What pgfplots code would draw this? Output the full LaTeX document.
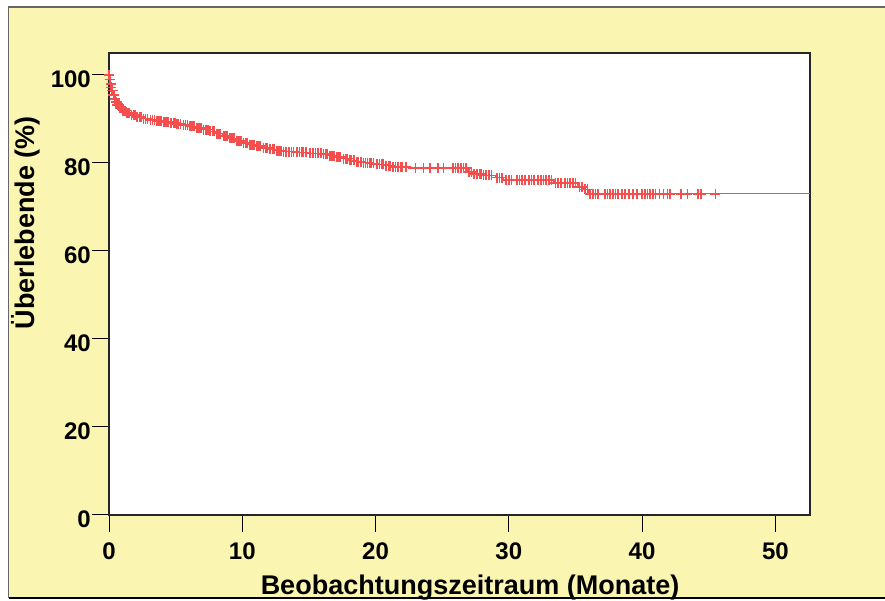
\documentclass[border=0pt]{standalone}
\usepackage{pgfplots}
\pgfplotsset{compat=1.18}
\usepackage{fontspec}
\setmainfont{Liberation Sans}
\definecolor{bgyellow}{RGB}{250,245,176}
\definecolor{kmred}{RGB}{245,78,78}
\begin{document}
\begin{tikzpicture}[x=1pt,y=1pt]
\fill[white] (0,0) rectangle (885,601);
\fill[bgyellow] (8.5,3) rectangle (885,594);
\draw[black!60, line width=1.2pt] (885,594) -- (8.5,594) -- (8.5,3);
\draw[black, line width=1.2pt] (8.5,3) -- (885,3);
\begin{axis}[
  at={(109pt,86pt)}, anchor=south west, scale only axis,
  width=701pt, height=462pt,
  xmin=0, xmax=52.6, ymin=0, ymax=105,
  xtick={0,10,20,30,40,50}, ytick={0,20,40,60,80,100},
  axis background/.style={fill=white},
  axis line style={black!85, line width=1.5pt},
  tick pos=left, tick align=outside, major tick length=17pt,
  tick style={black, line width=1pt},
  /pgf/number format/assume math mode=true,
  tick label style={font=\bfseries\fontsize{24}{28}\selectfont},
  yticklabel style={inner sep=1pt, yshift=-4pt},
  xticklabel style={inner sep=1pt, yshift=-10pt},
  label style={font=\bfseries\fontsize{27}{32}\selectfont},
  xlabel={Beobachtungszeitraum (Monate)},
  ylabel={Überlebende (\%)},
  xlabel style={at={(axis description cs:0.515,-0.173)}, anchor=base},
  ylabel style={at={(axis description cs:-0.1056,0.633)}, anchor=base},
  clip=false,
]
\addplot[draw=kmred, color=kmred, line width=1.3pt, const plot, mark=none] table {
t S
0 100
0.05 99.0
0.10 98.0
0.15 97.2
0.20 96.5
0.30 95.5
0.40 94.6
0.50 93.8
0.60 93.2
0.80 92.5
1.00 91.9
1.30 91.3
1.60 90.9
2.00 90.5
2.50 90.1
3.00 89.8
3.50 89.5
4.00 89.3
4.50 89.1
5.00 88.9
5.50 88.6
6.00 88.3
6.50 88.0
7.00 87.6
7.50 87.2
8.00 86.7
8.50 86.2
9.00 85.6
9.50 85.0
10.00 84.6
10.50 84.2
11.00 83.8
11.50 83.4
12.00 83.1
12.50 82.8
13.00 82.6
14.00 82.4
15.00 82.2
16.00 82.0
16.50 81.7
17.00 81.4
17.50 81.0
18.00 80.6
18.50 80.3
19.00 80.1
19.50 79.9
20.00 79.7
20.70 79.4
21.20 79.1
22.50 78.8
26.90 78.0
27.30 77.5
28.00 77.2
29.00 76.7
29.60 76.2
33.40 75.5
35.20 74.6
35.60 74.0
36.00 73.0
52.60 73.0
};
\addplot[draw=kmred, color=kmred, only marks, mark=+, mark size=5pt, line width=1.6pt, mark options={draw=kmred, line width=1.6pt}] coordinates {
(0.0,100) (0.02,100) (0.06,99) (0.12,98) (0.17,97.2) (0.22,96.5) (0.27,96.5)
(0.33,95.5) (0.37,95.5) (0.43,94.6) (0.47,94.6) (0.53,93.8) (0.57,93.8)
(0.63,93.2) (0.7,93.2) (0.76,93.2) (0.84,92.5) (0.9,92.5) (0.96,92.5)
(1.05,91.9) (1.15,91.9) (1.25,91.9) (1.35,91.3) (1.45,91.3) (1.55,91.3)
(1.7,90.9) (1.85,90.9) (1.95,90.9) (2.1,90.5) (2.3,90.5) (2.4,90.5)
(2.6,90.1) (2.75,90.1) (2.9,90.1) (3.1,89.8) (3.25,89.8) (3.4,89.8)
(3.6,89.5) (3.75,89.5) (3.9,89.5) (4.1,89.3) (4.2,89.3) (4.35,89.3) (4.45,89.3)
(4.6,89.1) (4.7,89.1) (4.85,89.1) (4.95,89.1) (5.1,88.9) (5.2,88.9) (5.35,88.9)
(5.6,88.6) (5.75,88.6) (5.9,88.6) (6.1,88.3) (6.25,88.3) (6.4,88.3)
(6.6,88.0) (6.75,88.0) (6.9,88.0) (7.1,87.6) (7.3,87.6) (7.45,87.6)
(7.6,87.2) (7.8,87.2) (7.9,87.2) (8.1,86.7) (8.2,86.7) (8.35,86.7)
(8.6,86.2) (8.7,86.2) (8.85,86.2) (9.1,85.6) (9.25,85.6) (9.4,85.6)
(9.6,85.0) (9.75,85.0) (9.9,85.0) (10.1,84.6) (10.3,84.6) (10.4,84.6)
(10.6,84.2) (10.75,84.2) (10.9,84.2) (11.1,83.8) (11.2,83.8) (11.35,83.8)
(11.6,83.4) (11.8,83.4) (11.9,83.4) (12.1,83.1) (12.3,83.1) (12.4,83.1)
(12.6,82.8) (12.75,82.8) (12.9,82.8)
(13.1,82.6) (13.3,82.6) (13.5,82.6) (13.7,82.6) (13.85,82.6)
(14.1,82.4) (14.3,82.4) (14.5,82.4) (14.6,82.4) (14.8,82.4)
(15.1,82.2) (15.3,82.2) (15.5,82.2) (15.7,82.2) (15.9,82.2)
(16.1,82.0) (16.3,82.0) (16.4,82.0) (16.6,81.7) (16.75,81.7) (16.9,81.7)
(17.1,81.4) (17.2,81.4) (17.35,81.4) (17.6,81.0) (17.8,81.0) (17.9,81.0)
(18.1,80.6) (18.2,80.6) (18.4,80.6) (18.6,80.3) (18.7,80.3) (18.9,80.3)
(19.1,80.1) (19.25,80.1) (19.4,80.1) (19.6,79.9) (19.7,79.9) (19.85,79.9)
(20.1,79.7) (20.3,79.7) (20.5,79.7) (20.6,79.7) (20.8,79.4) (21.0,79.4) (21.1,79.4)
(21.3,79.1) (21.5,79.1) (21.7,79.1) (21.9,79.1) (22.0,79.1) (22.3,79.1)
(23.0,78.8) (23.6,78.8) (24.1,78.8) (24.7,78.8) (25.1,78.8) (25.8,78.8)
(26.0,78.8) (26.2,78.8) (26.4,78.8) (26.6,78.8) (26.8,78.8)
(27.0,78.0) (27.2,78.0) (27.4,77.5) (27.6,77.5) (27.8,77.5) (27.9,77.5)
(28.1,77.2) (28.3,77.2) (28.5,77.2) (28.7,77.2) (29.1,76.7) (29.3,76.7) (29.5,76.7)
(29.8,76.2) (30.0,76.2) (30.2,76.2) (30.6,76.2) (30.8,76.2) (31.0,76.2) (31.2,76.2)
(31.5,76.2) (31.7,76.2) (31.9,76.2) (32.2,76.2) (32.4,76.2) (32.6,76.2) (32.8,76.2)
(33.0,76.2) (33.2,76.2)
(33.5,75.5) (33.7,75.5) (33.9,75.5) (34.2,75.5) (34.4,75.5) (34.6,75.5) (34.8,75.5) (35.0,75.5)
(35.3,74.6) (35.5,74.6) (35.7,74.0) (35.9,74.0)
(36.1,73) (36.3,73) (36.5,73) (36.7,73) (37.2,73) (37.4,73) (37.6,73) (37.8,73)
(38.0,73) (38.2,73) (38.5,73) (38.7,73) (39.0,73) (39.3,73) (39.6,73) (40.0,73)
(40.2,73) (40.4,73) (40.6,73) (40.8,73) (41.0,73) (41.3,73) (41.6,73) (41.9,73)
(42.1,73) (42.9,73) (43.4,73) (44.2,73) (44.4,73) (45.5,73)
};
\end{axis}
\pgfresetboundingbox
\path[use as bounding box] (0,0) rectangle (885,601);
\end{tikzpicture}
\end{document}
